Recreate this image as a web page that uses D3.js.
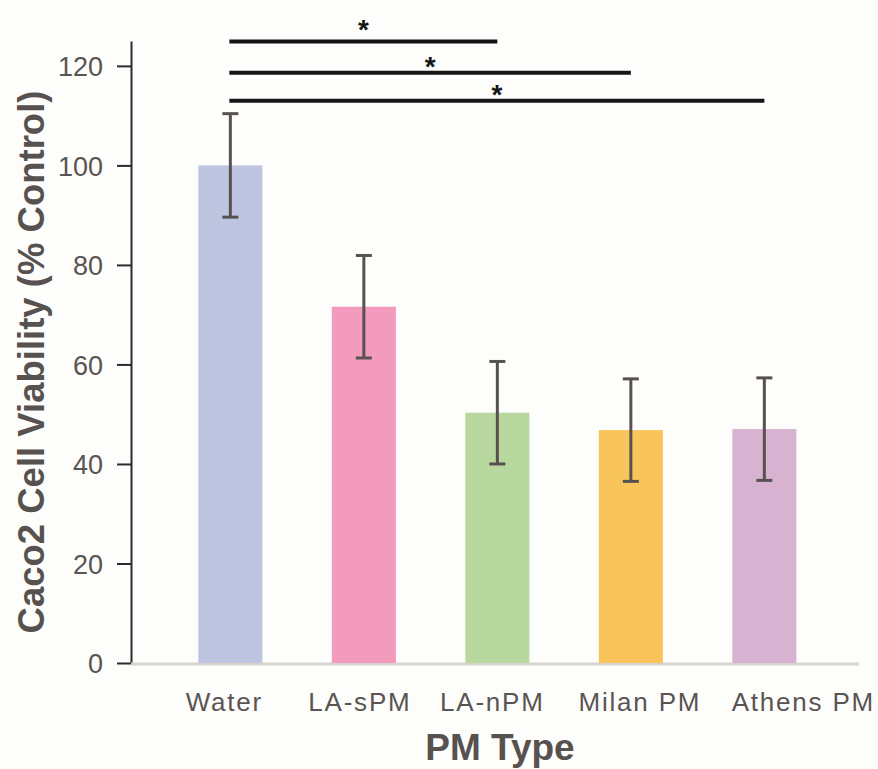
<!DOCTYPE html>
<html>
<head>
<meta charset="utf-8">
<script src="https://cdn.jsdelivr.net/npm/d3@7"></script>
<style>
  body { margin: 0; background: #fdfdfc; }
  svg { display: block; font-family: "Liberation Sans", Arial, sans-serif; }
</style>
</head>
<body>
<script>
'use strict';

// chart values
const categories = ["Water", "LA-sPM", "LA-nPM", "Milan PM", "Athens PM"];
const means = [100, 71.6, 50.3, 46.8, 47.0];
const errs = [10.4, 10.3, 10.3, 10.3, 10.3];
const colors = ["#bec5e1", "#f39bbd", "#b8d8a0", "#f9c55a", "#d8b2d1"];
const yTicks = [0, 20, 40, 60, 80, 100, 120];

// significance brackets: compared pair, line level, star level
const sigFrom = ["Water", "Water", "Water"];
const sigTo = ["LA-nPM", "Milan PM", "Athens PM"];
const sigLevel = [124.9, 118.6, 113.0];
const sigStar = [128.6, 121.2, 115.4];

let svgContainer = "";

window.onload = function() {
  svgContainer = d3.select('body')
    .append('svg')
    .attr('width', 878)
    .attr('height', 769);

  let map = drawAxes();
  plotBars(map);
  plotSig(map);
  makeLabels();
}

function drawAxes() {
  let xScale = d3.scaleBand()
    .domain(categories)
    .range([163.6, 831.1])
    .paddingInner(0.52)
    .paddingOuter(0.26);

  let yScale = d3.scaleLinear()
    .domain([0, 125])
    .range([663, 41]);

  // y axis, dark line with outside ticks
  let yAxis = d3.axisLeft(yScale)
    .tickValues(yTicks)
    .tickSize(14)
    .tickPadding(14)
    .tickSizeOuter(0);
  let gy = svgContainer.append('g')
    .attr('transform', 'translate(131, 0)')
    .call(yAxis);
  gy.select('.domain').attr('stroke', '#2b2b2b').attr('stroke-width', 2);
  gy.selectAll('.tick line').attr('stroke', '#2b2b2b').attr('stroke-width', 2);
  gy.selectAll('.tick text')
    .attr('fill', '#5a5452')
    .style('font-size', '27px')
    .attr('dy', '0.36em');

  // x axis baseline, light grey
  svgContainer.append('line')
    .attr('x1', 131)
    .attr('x2', 859)
    .attr('y1', yScale(0) + 1)
    .attr('y2', yScale(0) + 1)
    .attr('stroke', '#d9d3cd')
    .attr('stroke-width', 3);

  // category labels, the original places them a little unevenly
  let labelShift = [-6, -4, -5, 9, 39];
  let xAxis = d3.axisBottom(xScale).tickSize(0).tickPadding(30);
  let gx = svgContainer.append('g')
    .attr('transform', 'translate(0, ' + yScale(0) + ')')
    .call(xAxis);
  gx.select('.domain').remove();
  gx.selectAll('.tick text')
    .attr('fill', '#5a5452')
    .style('font-size', '26px')
    .style('letter-spacing', '1.8px')
    .attr('dx', (d, i) => labelShift[i]);

  return { x: xScale, y: yScale };
}

function plotBars(map) {
  let x = map.x, y = map.y;
  let rows = categories.map((c, i) => ({ cat: c, mean: means[i], err: errs[i], color: colors[i] }));

  svgContainer.selectAll('.bar')
    .data(rows)
    .enter()
    .append('rect')
      .attr('class', 'bar')
      .attr('x', d => x(d.cat))
      .attr('y', d => y(d.mean))
      .attr('width', x.bandwidth())
      .attr('height', d => y(0) - y(d.mean))
      .attr('fill', d => d.color);

  // error bars
  let cx = d => x(d.cat) + x.bandwidth() / 2;
  let eb = svgContainer.selectAll('.err')
    .data(rows)
    .enter()
    .append('g')
      .attr('class', 'err')
      .attr('stroke', '#57524f')
      .attr('stroke-width', 3);
  eb.append('line')
    .attr('x1', cx).attr('x2', cx)
    .attr('y1', d => y(d.mean + d.err))
    .attr('y2', d => y(d.mean - d.err));
  eb.append('line')
    .attr('x1', d => cx(d) - 8).attr('x2', d => cx(d) + 8)
    .attr('y1', d => y(d.mean + d.err))
    .attr('y2', d => y(d.mean + d.err));
  eb.append('line')
    .attr('x1', d => cx(d) - 8).attr('x2', d => cx(d) + 8)
    .attr('y1', d => y(d.mean - d.err))
    .attr('y2', d => y(d.mean - d.err));
}

function plotSig(map) {
  let x = map.x, y = map.y;
  let mid = c => x(c) + x.bandwidth() / 2;
  for (let i = 0; i < sigFrom.length; i++) {
    let x1 = mid(sigFrom[i]) - 1;
    let x2 = mid(sigTo[i]);
    svgContainer.append('line')
      .attr('x1', x1)
      .attr('x2', x2)
      .attr('y1', y(sigLevel[i]))
      .attr('y2', y(sigLevel[i]))
      .attr('stroke', '#151515')
      .attr('stroke-width', 4);
    svgContainer.append('text')
      .attr('x', (x1 + x2) / 2)
      .attr('y', y(sigStar[i]))
      .attr('dy', '0.56em')
      .attr('text-anchor', 'middle')
      .attr('fill', '#151515')
      .style('font-size', '28px')
      .style('font-weight', 'bold')
      .text('*');
  }
}

function makeLabels() {
  svgContainer.append('text')
    .attr('x', 500)
    .attr('y', 760)
    .attr('text-anchor', 'middle')
    .attr('fill', '#57524f')
    .style('font-size', '37px')
    .style('font-weight', 'bold')
    .text('PM Type');

  svgContainer.append('text')
    .attr('transform', 'translate(44, 362)rotate(-90)')
    .attr('text-anchor', 'middle')
    .attr('fill', '#57524f')
    .style('font-size', '36.5px')
    .style('font-weight', 'bold')
    .text('Caco2 Cell Viability (% Control)');
}
</script>
</body>
</html>
